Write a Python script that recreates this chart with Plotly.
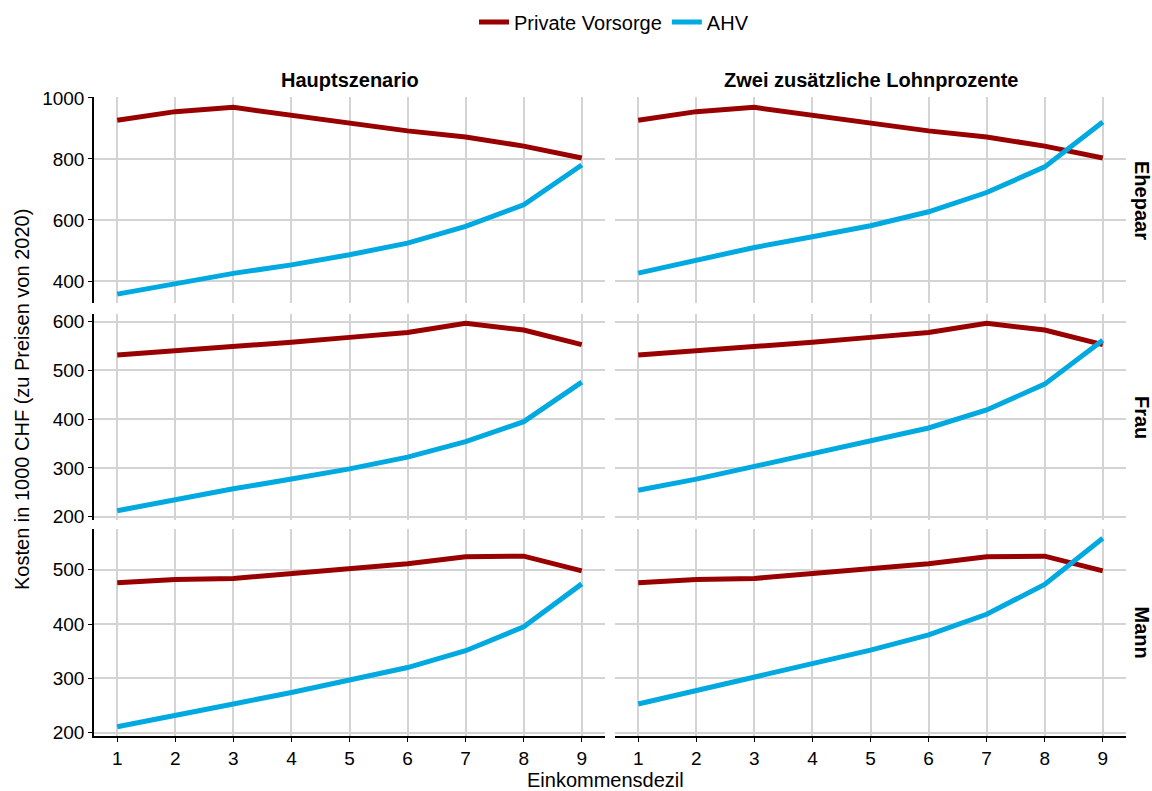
import plotly.graph_objects as go

deciles = [1, 2, 3, 4, 5, 6, 7, 8, 9]
scenarios = ["Hauptszenario", "Zwei zusätzliche Lohnprozente"]
groups = ["Ehepaar", "Frau", "Mann"]
series_names = ["Private Vorsorge", "AHV"]

private_ehepaar = [927, 955, 969, 944, 920, 892, 872, 842, 803]
ahv_ehepaar_haupt = [357, 390, 425, 453, 486, 524, 579, 650, 780]
ahv_ehepaar_zwei = [426, 470, 510, 545, 581, 627, 690, 774, 921]

private_frau = [532, 540, 549, 558, 568, 578, 597, 583, 553]
ahv_frau_haupt = [212, 235, 257, 277, 298, 322, 354, 395, 476]
ahv_frau_zwei = [254, 277, 303, 329, 356, 382, 419, 472, 562]

private_mann = [476, 482, 484, 493, 503, 511, 524, 525, 498]
ahv_mann_haupt = [211, 231, 253, 274, 297, 320, 351, 395, 474]
ahv_mann_zwei = [253, 278, 302, 327, 352, 380, 418, 473, 558]

y_ticks_ehepaar = [400, 600, 800, 1000]
y_ticks_frau = [200, 300, 400, 500, 600]
y_ticks_mann = [200, 300, 400, 500]

panel_data = {
    ("Ehepaar", 0): (private_ehepaar, ahv_ehepaar_haupt),
    ("Ehepaar", 1): (private_ehepaar, ahv_ehepaar_zwei),
    ("Frau", 0): (private_frau, ahv_frau_haupt),
    ("Frau", 1): (private_frau, ahv_frau_zwei),
    ("Mann", 0): (private_mann, ahv_mann_haupt),
    ("Mann", 1): (private_mann, ahv_mann_zwei),
}
row_ticks = {"Ehepaar": y_ticks_ehepaar, "Frau": y_ticks_frau, "Mann": y_ticks_mann}
row_ranges = {"Ehepaar": [328, 1003], "Frau": [193, 616], "Mann": [194, 575]}

COL_PRIV = "#990000"
COL_AHV = "#00A9E0"
FONT = "Liberation Sans, Arial, sans-serif"
GRID = "#d4d4d4"
TICK_SIZE = 19
TEXT_SIZE = 20

W, H = 1152, 791
col_dom = [[94 / W, 605 / W], [615 / W, 1126 / W]]
row_px = [(97, 303), (314, 520), (529, 736)]
row_dom = [[1 - b / H, 1 - t / H] for t, b in row_px]

fig = go.Figure()
layout = {}
idx = 0
for r, g in enumerate(groups):
    yr = row_ranges[g]
    for c in range(2):
        idx += 1
        xa = "x" if idx == 1 else f"x{idx}"
        ya = "y" if idx == 1 else f"y{idx}"
        p, a = panel_data[(g, c)]
        fig.add_trace(go.Scatter(x=deciles, y=p, mode="lines", name=series_names[0],
                                 line=dict(color=COL_PRIV, width=5),
                                 xaxis=xa, yaxis=ya, showlegend=(idx == 1),
                                 legendgroup="p"))
        fig.add_trace(go.Scatter(x=deciles, y=a, mode="lines", name=series_names[1],
                                 line=dict(color=COL_AHV, width=5),
                                 xaxis=xa, yaxis=ya, showlegend=(idx == 1),
                                 legendgroup="a"))
        bottom = (r == 2)
        left = (c == 0)
        layout["xaxis" if idx == 1 else f"xaxis{idx}"] = dict(
            domain=col_dom[c], anchor=ya, range=[0.6, 9.4],
            tickvals=deciles, showticklabels=bottom,
            ticks="outside" if bottom else "", ticklen=4, tickcolor="black", tickwidth=1,
            showline=bottom, linecolor="black", linewidth=1.5,
            showgrid=True, gridcolor=GRID, gridwidth=1.5, zeroline=False,
            tickfont=dict(size=TICK_SIZE, color="black", family=FONT),
        )
        layout["yaxis" if idx == 1 else f"yaxis{idx}"] = dict(
            domain=row_dom[r], anchor=xa, range=yr,
            tickvals=row_ticks[g], showticklabels=left,
            ticks="outside" if left else "", ticklen=4, tickcolor="black", tickwidth=1,
            showline=left, linecolor="black", linewidth=1.5,
            showgrid=True, gridcolor=GRID, gridwidth=1.5, zeroline=False,
            tickfont=dict(size=TICK_SIZE, color="black", family=FONT),
        )

annotations = []
for c, s in enumerate(scenarios):
    annotations.append(dict(text=f"<b>{s}</b>", x=sum(col_dom[c]) / 2, y=1 - 80 / H,
                            xref="paper", yref="paper", showarrow=False,
                            xanchor="center", yanchor="middle",
                            font=dict(size=TEXT_SIZE, color="black", family=FONT)))
for r, g in enumerate(groups):
    annotations.append(dict(text=f"<b>{g}</b>", x=1142 / W, y=sum(row_dom[r]) / 2,
                            xref="paper", yref="paper", showarrow=False, textangle=90,
                            xanchor="center", yanchor="middle",
                            font=dict(size=TEXT_SIZE, color="black", family=FONT)))
annotations.append(dict(text="Einkommensdezil", x=605 / W, y=1 - 780 / H,
                        xref="paper", yref="paper", showarrow=False,
                        xanchor="center", yanchor="middle",
                        font=dict(size=TEXT_SIZE, color="black", family=FONT)))
annotations.append(dict(text="Kosten in 1000 CHF (zu Preisen von 2020)", x=22 / W,
                        y=1 - 400 / H, xref="paper", yref="paper", showarrow=False,
                        textangle=-90, xanchor="center", yanchor="middle",
                        font=dict(size=TEXT_SIZE, color="black", family=FONT)))

fig.update_layout(
    width=W, height=H, margin=dict(l=0, r=0, t=0, b=0, autoexpand=False),
    paper_bgcolor="white", plot_bgcolor="white",
    font=dict(family=FONT, color="black"),
    legend=dict(orientation="h", x=614 / W, xanchor="center", y=1 - 22 / H,
                yanchor="middle", font=dict(size=TEXT_SIZE, color="black", family=FONT),
                itemwidth=30, bgcolor="rgba(0,0,0,0)"),
    annotations=annotations,
    **layout,
)

fig.write_html("out.html")
